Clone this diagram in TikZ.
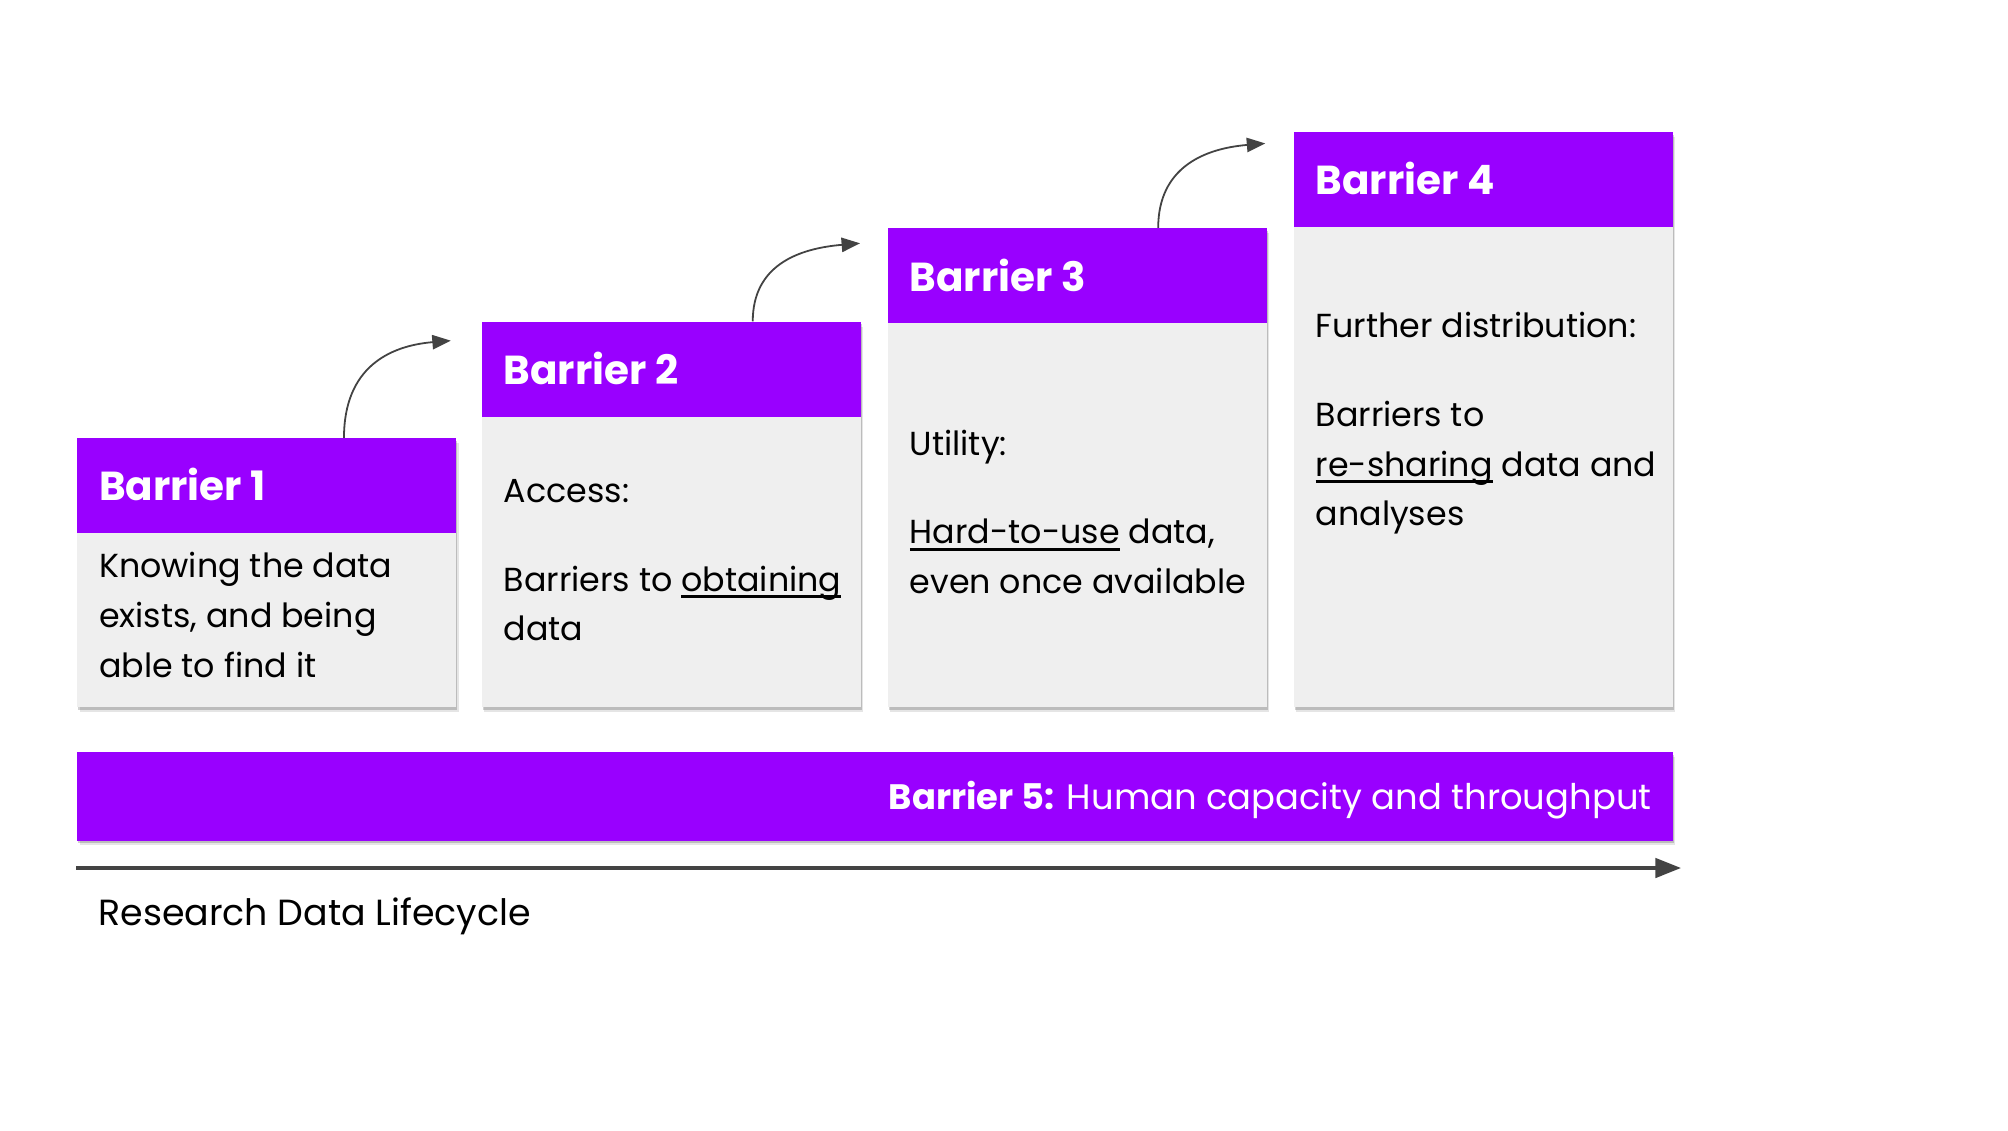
\documentclass[tikz,border=0pt]{standalone}
\usepackage{fontspec}
\setmainfont{Poppins}
\usetikzlibrary{shadows,arrows.meta,calc}
\definecolor{barpurple}{HTML}{9900FF}
\definecolor{cardgray}{HTML}{EFEFEF}
\definecolor{arrowgray}{HTML}{434343}
\newlength\undlwd
\newcommand\undl[1]{\settowidth{\undlwd}{#1}\rlap{\rule[-2.6pt]{\undlwd}{0.9pt}}#1}
\begin{document}
\begin{tikzpicture}[x=0.5pt,y=-0.5pt,
  softshadow/.style={
    drop shadow={shadow xshift=0.4pt, shadow yshift=-0.9pt, opacity=0.18, fill=black},
    drop shadow={shadow xshift=0.9pt, shadow yshift=-1.9pt, opacity=0.10, fill=black}},
  cardbody/.style={fill=cardgray, draw=none, anchor=north west, inner sep=0, minimum width=148pt, softshadow},
  cardhead/.style={fill=barpurple, draw=none, anchor=north west, inner sep=0, minimum width=148pt, minimum height=37pt},
  headtext/.style={anchor=base west, inner sep=0, text=white, font=\fontsize{15.8}{19}\selectfont\bfseries},
  bodytext/.style={anchor=base west, inner sep=0, align=left, font=\fontsize{13}{19.5}\selectfont},
  stepup/.style={draw=arrowgray, line width=0.7pt, -{Triangle[length=7.2pt,width=5.6pt]}},
  lifeline/.style={draw=arrowgray, line width=1.5pt, -{Triangle[length=10pt,width=7.5pt]}},
]
\useasboundingbox (0,0) rectangle (1568,882.4);

% Card 1
\node[cardbody, minimum height=105pt] (card1) at (60,342) {};
\node[cardhead] (head1) at (60,342) {};
\node[headtext] (title1) at (77,391.2) {Barrier 1};
\node[bodytext] (text1) at (77,528.7) {Knowing the data\\exists, and being\\able to find it};

% Card 2
\node[cardbody, minimum height=150.5pt] (card2) at (376,251) {};
\node[cardhead] (head2) at (376,251) {};
\node[headtext] (title2) at (393,299.9) {Barrier 2};
\node[bodytext] (text2) at (393,500.5) {Access:\\[15pt]Barriers to \undl{obtaining}\\data};

% Card 3
\node[cardbody, minimum height=187pt] (card3) at (693,178) {};
\node[cardhead] (head3) at (693,178) {};
\node[headtext] (title3) at (710,227.6) {Barrier 3};
\node[bodytext] (text3) at (710,463.7) {Utility:\\[15pt]\undl{Hard-to-use} data,\\even once available};

% Card 4
\node[cardbody, minimum height=224.5pt] (card4) at (1010,103) {};
\node[cardhead] (head4) at (1010,103) {};
\node[headtext] (title4) at (1027,152) {Barrier 4};
\node[bodytext] (text4) at (1027,410.7) {Further distribution:\\[15pt]Barriers to\\\undl{re-sharing} data and\\analyses};

% Step arrows
\coordinate (tip1) at (352,266);
\coordinate (tip2) at (671.6,190);
\coordinate (tip3) at (988,112);
\draw[stepup] ($(head1.north west)+(208.6,0)$) .. controls +(0,-55) and +(-48,4) .. (tip1);
\draw[stepup] ($(head2.north west)+(211.8,0)$) .. controls +(0,-44) and +(-48,4) .. (tip2);
\draw[stepup] ($(head3.north west)+(211.4,0)$) .. controls +(0,-47) and +(-48,4) .. (tip3);

% Barrier 5 bar
\node[fill=barpurple, draw=none, anchor=north west, inner sep=0, minimum width=623pt, minimum height=34.5pt, softshadow] (bar5) at (60,587) {};
\node[anchor=base east, inner sep=0, text=white, font=\fontsize{13.8}{17}\selectfont] (bar5text) at (1290,632.5) {\textbf{Barrier 5:} Human capacity and throughput};

% Lifecycle arrow
\coordinate (lcstart) at (59.4,677.8);
\coordinate (lcend) at (1312.7,677.8);
\draw[lifeline] (lcstart) -- (lcend);
\node[anchor=base west, inner sep=0, font=\fontsize{14.2}{17}\selectfont] (lclabel) at (76.5,723) {Research Data Lifecycle};
\end{tikzpicture}
\end{document}
